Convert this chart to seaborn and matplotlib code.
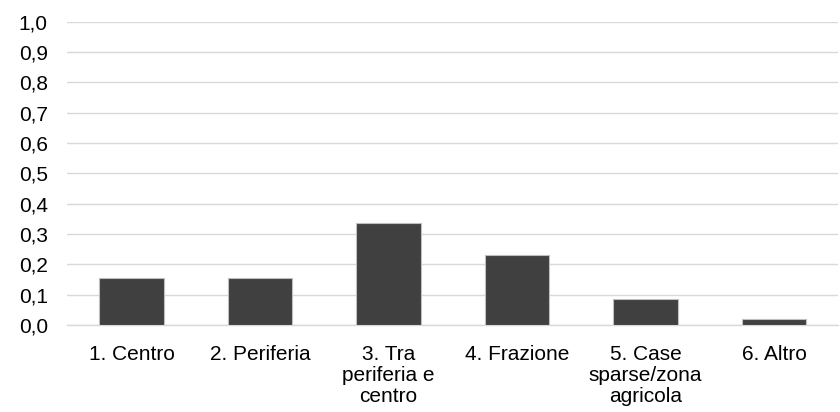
import pandas as pd
import numpy as np
import matplotlib
matplotlib.use("Agg")
import matplotlib.pyplot as plt
import seaborn as sns
from matplotlib.ticker import FixedLocator, FuncFormatter

# dati
categorie = ["1. Centro", "2. Periferia", "3. Tra\nperiferia e\ncentro",
             "4. Frazione", "5. Case\nsparse/zona\nagricola", "6. Altro"]
valori = [0.154, 0.155, 0.338, 0.230, 0.086, 0.021]

df = pd.DataFrame({"categoria": categorie, "valore": valori})

sns.set_style("white")
plt.rcParams['font.family'] = ['Liberation Sans', 'DejaVu Sans']

fig = plt.figure(figsize=(8.4, 4.12), dpi=100)
ax = fig.add_axes([0.08, 0.211, 0.918, 0.736])

sns.barplot(data=df, x="categoria", y="valore", color="#404040", width=0.5,
            edgecolor="#bfbfbf", linewidth=0.8, saturation=1, ax=ax, zorder=3)

ax.set_ylim(0, 1.0)
ax.set_xlim(-0.5, len(categorie) - 0.5)
ax.set_yticks(np.arange(0, 1.01, 0.1))
ax.yaxis.set_major_formatter(FuncFormatter(lambda v, p: f"{v:.1f}".replace(".", ",")))
ax.grid(axis="y", color="#d9d9d9", linewidth=1, zorder=0)
ax.set_axisbelow(True)

for s in ["top", "right", "left"]:
    ax.spines[s].set_visible(False)
ax.spines["bottom"].set_color("#d9d9d9")
ax.spines["bottom"].set_linewidth(1)

ax.tick_params(axis="y", length=0, pad=14, labelsize=15, labelcolor="#000000")
ax.tick_params(axis="x", which="major", length=0, pad=14, labelsize=15, labelcolor="#000000")
ax.xaxis.set_minor_locator(FixedLocator(np.arange(-0.5, len(categorie), 1.0)))
ax.tick_params(axis="x", which="minor", length=5, width=1, color="#d9d9d9", direction="out")
for lbl in ax.get_xticklabels():
    lbl.set_linespacing(1.15)

ax.set_xlabel("")
ax.set_ylabel("")

fig.savefig("out.png", dpi=100)
